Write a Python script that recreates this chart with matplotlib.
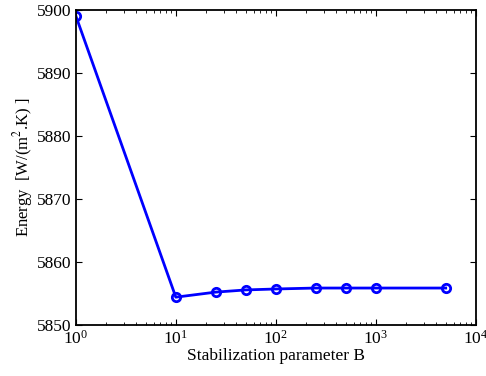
import numpy as np
import matplotlib
matplotlib.use("Agg")
import matplotlib.pyplot as plt

# stabilization parameter values and resulting energy
B = [1, 10, 25, 50, 100, 250, 500, 1000, 5000]
energy = [5899.1, 5854.4, 5855.2, 5855.55, 5855.7, 5855.85, 5855.85, 5855.85, 5855.85]

plt.rcParams['font.family'] = ['Liberation Serif', 'DejaVu Serif']
plt.rcParams['mathtext.fontset'] = 'stix'

fig = plt.figure(figsize=(4.86, 3.76), dpi=100)
ax = fig.add_axes([0.156, 0.136, 0.823, 0.837])

ax.plot(B, energy, '-o', color='#0000ff', linewidth=2, markersize=6,
        markerfacecolor='none', markeredgewidth=2)

ax.set_xscale('log')
ax.set_xlim(1, 1e4)
ax.set_ylim(5850, 5900)
ax.set_yticks(np.arange(5850, 5901, 10))

ax.set_xlabel("Stabilization parameter B", fontsize=12.5, labelpad=0)
ax.set_ylabel("Energy  [W/(m$^2$.K) ]", fontsize=12, labelpad=1)

ax.tick_params(which='both', direction='in', top=True, right=True, labelsize=12.5)
ax.tick_params(which='major', length=4, width=0.8)
ax.tick_params(which='minor', length=2, width=0.6)
for s in ax.spines.values():
    s.set_linewidth(1.3)

fig.savefig("out.png", dpi=100)
